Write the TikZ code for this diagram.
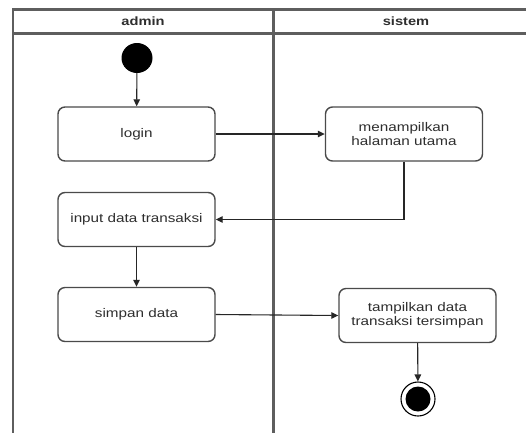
\documentclass[tikz,border=0pt]{standalone}
\usepackage{fontspec}
\setmainfont[FakeStretch=1.22]{Liberation Sans}
\usetikzlibrary{arrows.meta,shapes.geometric}
\definecolor{lanecol}{HTML}{5E5E5E}
\definecolor{boxcol}{HTML}{4A4A4A}
\definecolor{txtcol}{HTML}{2E2E2E}
\tikzset{
  lane/.style={draw=lanecol, line width=2.2pt},
  actbox/.style={draw=boxcol, line width=1.4pt, rounded corners=7pt, fill=white,
    minimum width=157pt, minimum height=54pt, align=center, text=txtcol,
    font=\fontsize{12.5}{14}\selectfont, inner sep=0pt},
  hdr/.style={text=txtcol, font=\fontsize{12}{14}\selectfont\bfseries},
  flow/.style={draw=black!85, line width=1.1pt, -{Triangle[length=7pt,width=6.5pt]}},
}
\begin{document}
\begin{tikzpicture}[x=1pt,y=1pt]
\useasboundingbox[fill=white] (0,0) rectangle (526,-432);
% swimlane frame
\draw[lane] (13,-440) -- (13,-9.5) -- (545,-9.5);
\draw[lane] (13,-33.5) -- (545,-33.5);
\draw[lane] (273.5,-9.5) -- (273.5,-440);
\node[hdr] (hadmin) at (143,-21.5) {admin};
\node[hdr] (hsistem) at (406,-21.5) {sistem};
% nodes
\node[fill=black, ellipse, minimum width=31pt, minimum height=30pt, inner sep=0pt] (start) at (137,-58) {};
\node[actbox] (login) at (136.5,-134) {login};
\node[actbox] (menu) at (404,-134) {menampilkan\\halaman utama};
\node[actbox] (input) at (136.5,-219.5) {input data transaksi};
\node[actbox] (simpan) at (136.5,-314.5) {simpan data};
\node[actbox] (tampil) at (417.5,-315.5) {tampilkan data\\transaksi tersimpan};
\node[draw=black, line width=1.1pt, circle, minimum size=34pt, inner sep=0pt] (endo) at (418,-399) {};
\node[fill=black, circle, minimum size=25pt, inner sep=0pt] (endi) at (endo.center) {};
% connectors
\draw[flow] (start) -- (login);
\draw[flow] (login.east) -- (menu.west);
\draw[flow] (menu.south) |- (input.east);
\draw[flow] (input) -- (simpan);
\draw[flow] (simpan.east) -- (tampil.west);
\draw[flow] (tampil) -- (endo);
\end{tikzpicture}
\end{document}
